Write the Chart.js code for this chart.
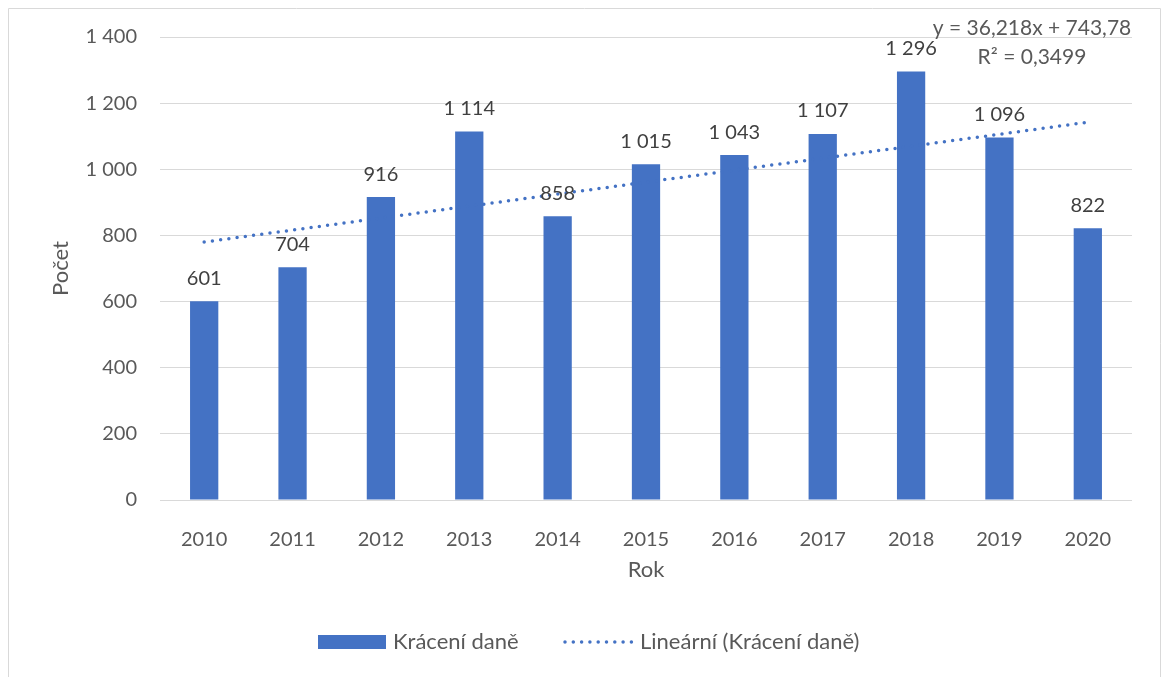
<!DOCTYPE html>
<html>
<head>
<meta charset="utf-8">
<script src="https://cdn.jsdelivr.net/npm/chart.js@4"></script>
<style>
  html, body { margin: 0; padding: 0; background: #fff; }
  #wrap { width: 1163px; height: 677px; position: relative; }
</style>
</head>
<body>
<div id="wrap"><canvas id="chart" width="1163" height="677"></canvas></div>
<script>
const years = ['2010', '2011', '2012', '2013', '2014', '2015', '2016', '2017', '2018', '2019', '2020'];
const cases = [601, 704, 916, 1114, 858, 1015, 1043, 1107, 1296, 1096, 822];
const yTicks = [0, 200, 400, 600, 800, 1000, 1200, 1400];
const trendSlope = 36.218;
const trendIntercept = 743.78;
const trendLabel = ['y = 36,218x + 743,78', 'R² = 0,3499'];

const barColor = '#4472C4';
const font = 'Lato, "Open Sans", sans-serif';
const dots = [0, 8.3];

// linear trend (Excel numbers categories from 1)
const trend = years.map((y, i) => trendSlope * (i + 1) + trendIntercept);

function fmt(v) {
    return String(v).replace(/\B(?=(\d{3})+(?!\d))/g, ' ');
}

const extras = {
    id: 'extras',
    afterDatasetsDraw(chart) {
        const ctx = chart.ctx;
        const meta = chart.getDatasetMeta(0);
        ctx.save();
        ctx.fillStyle = '#404040';
        ctx.font = '20px ' + font;
        ctx.textAlign = 'center';
        ctx.textBaseline = 'bottom';
        meta.data.forEach((bar, i) => {
            ctx.fillText(fmt(cases[i]), bar.x, bar.y - 13);
        });
        ctx.restore();
    },
    afterDraw(chart) {
        const ctx = chart.ctx;
        const area = chart.chartArea;
        ctx.save();

        // outer frame
        ctx.strokeStyle = '#D9D9D9';
        ctx.lineWidth = 1;
        ctx.beginPath();
        ctx.moveTo(8.5, 700);
        ctx.lineTo(8.5, 8.5);
        ctx.lineTo(1160.5, 8.5);
        ctx.lineTo(1160.5, 700);
        ctx.stroke();

        // axis titles
        ctx.fillStyle = '#595959';
        ctx.font = '22px ' + font;
        ctx.textAlign = 'center';
        ctx.textBaseline = 'middle';
        ctx.fillText('Rok', (area.left + area.right) / 2, 570);
        ctx.save();
        ctx.translate(61, (area.top + area.bottom) / 2);
        ctx.rotate(-Math.PI / 2);
        ctx.fillText('Počet', 0, 0);
        ctx.restore();

        // trend equation
        ctx.font = '21px ' + font;
        ctx.fillText(trendLabel[0], 1032, 28);
        ctx.fillText(trendLabel[1], 1032, 57);

        // legend
        const ly = 642;
        ctx.font = '22px ' + font;
        ctx.fillStyle = barColor;
        ctx.fillRect(318, ly - 7, 68, 14);
        ctx.fillStyle = '#595959';
        ctx.textAlign = 'left';
        ctx.fillText('Krácení daně', 393, ly);
        ctx.strokeStyle = barColor;
        ctx.lineWidth = 3.5;
        ctx.lineCap = 'round';
        ctx.setLineDash(dots);
        ctx.beginPath();
        ctx.moveTo(565, ly);
        ctx.lineTo(633, ly);
        ctx.stroke();
        ctx.setLineDash([]);
        ctx.fillText('Lineární (Krácení daně)', 640, ly);
        ctx.restore();
    }
};

new Chart(document.getElementById('chart').getContext('2d'), {
    type: 'bar',
    data: {
        labels: years,
        datasets: [{
            label: 'Krácení daně',
            data: cases,
            backgroundColor: barColor,
            categoryPercentage: 1,
            barPercentage: 0.32,
            order: 2
        }, {
            type: 'line',
            label: 'Lineární (Krácení daně)',
            data: trend,
            borderColor: barColor,
            borderWidth: 3.5,
            borderDash: dots,
            borderCapStyle: 'round',
            pointRadius: 0,
            fill: false,
            order: 1
        }]
    },
    options: {
        responsive: false,
        animation: false,
        layout: { padding: { left: 0, top: 37, right: 31, bottom: 0 } },
        plugins: {
            legend: { display: false },
            tooltip: { enabled: false }
        },
        scales: {
            x: {
                grid: { display: false },
                border: { display: false },
                ticks: { color: '#595959', font: { family: font, size: 20 }, padding: 20 },
                afterFit(scale) { scale.height = 177; }
            },
            y: {
                min: 0,
                max: 1400,
                afterBuildTicks(scale) { scale.ticks = yTicks.map(v => ({ value: v })); },
                grid: { color: '#D9D9D9', lineWidth: 1, drawTicks: false },
                border: { display: false },
                ticks: {
                    color: '#595959',
                    font: { family: font, size: 20 },
                    padding: 23,
                    callback: v => fmt(v)
                },
                afterFit(scale) { scale.width = 160; }
            }
        }
    },
    plugins: [extras]
});
</script>
</body>
</html>
